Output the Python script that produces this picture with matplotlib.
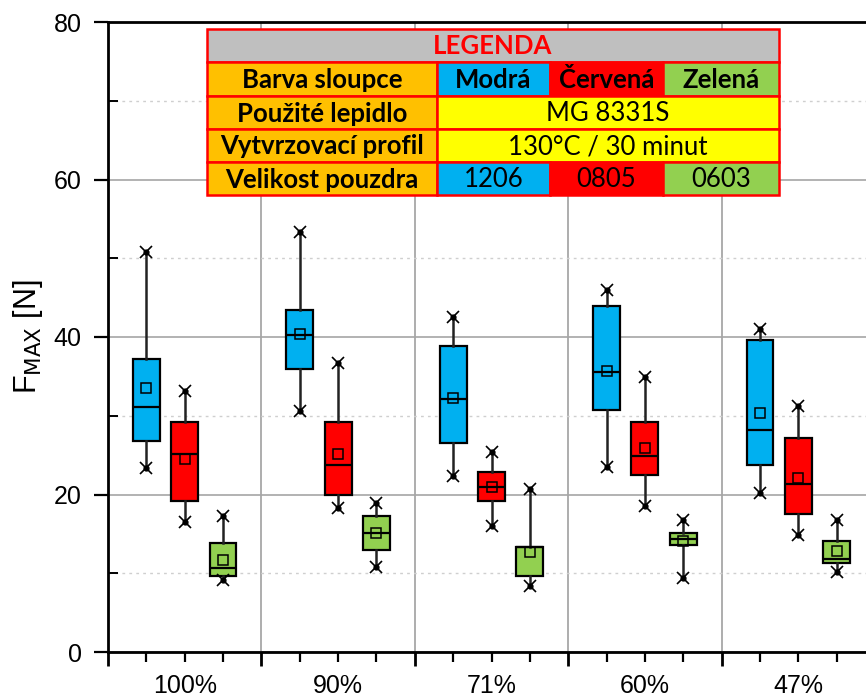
import matplotlib
matplotlib.use("Agg")
import matplotlib.pyplot as plt
from matplotlib.patches import Rectangle
from matplotlib.ticker import FixedLocator, NullFormatter, FixedFormatter

# ---- data -------------------------------------------------------------
groups = ["100%", "90%", "71%", "60%", "47%"]

blue_min = [23.4, 30.65, 22.3, 23.5, 20.2]
blue_q1 = [26.75, 36.0, 26.6, 30.7, 23.8]
blue_med = [31.15, 40.3, 32.1, 35.5, 28.2]
blue_q3 = [37.25, 43.4, 38.8, 43.94, 39.6]
blue_max = [50.75, 53.3, 42.5, 45.97, 41.0]
blue_mean = [33.5, 40.4, 32.3, 35.7, 30.3]

red_min = [16.55, 18.3, 16.05, 18.6, 14.8]
red_q1 = [19.2, 19.9, 19.2, 22.5, 17.5]
red_med = [25.2, 23.75, 21.0, 24.9, 21.3]
red_q3 = [29.2, 29.2, 22.9, 29.2, 27.2]
red_max = [33.2, 36.7, 25.35, 34.9, 31.3]
red_mean = [24.55, 25.1, 21.0, 25.95, 22.15]

green_min = [9.15, 10.8, 8.35, 9.35, 10.1]
green_q1 = [9.6, 13.0, 9.6, 13.55, 11.35]
green_med = [10.7, 15.1, 13.3, 14.3, 11.8]
green_q3 = [13.8, 17.3, 13.3, 15.1, 14.1]
green_max = [17.3, 18.9, 20.7, 16.7, 16.7]
green_mean = [11.7, 15.1, 12.75, 14.15, 12.8]

# legend table texts
legend_title = "LEGENDA"
row_labels = ["Barva sloupce", "Použité lepidlo", "Vytvrzovací profil", "Velikost pouzdra"]
color_names = ["Modrá", "Červená", "Zelená"]
adhesive = "MG 8331S"
cure_profile = "130°C / 30 minut"
package_sizes = ["1206", "0805", "0603"]

# ---- styling ------------------------------------------------------------
C_BLUE = "#00B0F0"
C_RED = "#FF0000"
C_GREEN = "#92D050"
C_ORANGE = "#FFC000"
C_YELLOW = "#FFFF00"
C_GRAY = "#BFBFBF"

plt.rcParams["font.family"] = ["Liberation Sans", "DejaVu Sans"]

W, H = 866, 697
fig = plt.figure(figsize=(W / 100, H / 100), dpi=100)
ax = fig.add_axes([108 / W, 45 / H, 767 / W, 630 / H])

series = [
    (blue_min, blue_q1, blue_med, blue_q3, blue_max, blue_mean, C_BLUE, 0.25),
    (red_min, red_q1, red_med, red_q3, red_max, red_mean, C_RED, 0.50),
    (green_min, green_q1, green_med, green_q3, green_max, green_mean, C_GREEN, 0.75),
]
box_w = 0.175

for mins, q1s, meds, q3s, maxs, means, col, off in series:
    stats = []
    for i in range(len(groups)):
        stats.append(dict(whislo=mins[i], q1=q1s[i], med=meds[i], q3=q3s[i],
                          whishi=maxs[i], mean=means[i], fliers=[]))
    pos = [i + off for i in range(len(groups))]
    ax.bxp(stats, positions=pos, widths=box_w, patch_artist=True,
           showcaps=False, showfliers=False, showmeans=False,
           boxprops=dict(facecolor=col, edgecolor="black", linewidth=1.6),
           medianprops=dict(color="black", linewidth=1.6),
           whiskerprops=dict(color="#222222", linewidth=1.8),
           zorder=3)
    for ends in (mins, maxs):
        ax.plot(pos, ends, ls="none", marker="x", ms=8, mew=1.2, color="black", zorder=4)
        ax.plot(pos, ends, ls="none", marker="o", ms=3.5, color="black", zorder=4)
    ax.plot(pos, means, ls="none", marker="s", ms=7, mew=1.1, mfc="none",
            mec="black", zorder=5)

ax.set_xlim(0, len(groups))
ax.set_ylim(0, 80)

# x axis: group boundaries as major ticks, box positions as minor ticks
ax.xaxis.set_major_locator(FixedLocator(list(range(len(groups) + 1))))
ax.xaxis.set_major_formatter(NullFormatter())
minor_pos, minor_lab = [], []
for i, g in enumerate(groups):
    for off in (0.25, 0.5, 0.75):
        minor_pos.append(i + off)
        minor_lab.append(g if off == 0.5 else "")
ax.xaxis.set_minor_locator(FixedLocator(minor_pos))
ax.xaxis.set_minor_formatter(FixedFormatter(minor_lab))
ax.tick_params(axis="x", which="major", direction="out", length=10, width=2)
ax.tick_params(axis="x", which="minor", direction="out", length=7, width=1.6,
               labelsize=18, pad=9)

ax.yaxis.set_major_locator(FixedLocator([0, 20, 40, 60, 80]))
ax.yaxis.set_minor_locator(FixedLocator([10, 30, 50, 70]))
ax.tick_params(axis="y", which="major", direction="out", length=10, width=1.6,
               labelsize=18, pad=9)
ax.tick_params(axis="y", which="minor", direction="in", length=7, width=1.4)

ax.grid(True, axis="y", which="major", color="#A6A6A6", linewidth=1.2, zorder=0)
ax.grid(True, axis="y", which="minor", color="#CFCFCF", linewidth=1.0,
        linestyle=(0, (2, 3)), zorder=0)
ax.grid(True, axis="x", which="major", color="#A0A0A0", linewidth=1.2, zorder=0)
ax.set_axisbelow(True)

for s in ("left", "bottom", "top"):
    ax.spines[s].set_linewidth(2)
ax.spines["right"].set_visible(False)

ax.set_ylabel(r"F$_{\mathrm{MAX}}$ [N]", fontsize=22)
ax.yaxis.set_label_coords(-0.082, 0.5)

# ---- legend table (pixel coordinates) ----------------------------------
lax = fig.add_axes([0, 0, 1, 1], zorder=10)
lax.set_xlim(0, W)
lax.set_ylim(H, 0)
lax.axis("off")

x0, x1, x2, x3, x4 = 207, 437, 550, 663, 779
rows_y = [29, 62, 96, 129, 162, 195]
border = dict(edgecolor=C_RED, linewidth=1.8)
tfont = dict(family=["Lato", "DejaVu Sans"], fontsize=18.5, ha="center", va="center")


def cell(xa, xb, ya, yb, fc):
    lax.add_patch(Rectangle((xa, ya), xb - xa, yb - ya, facecolor=fc, **border))


def ctext(xa, xb, ya, yb, s, **kw):
    lax.text((xa + xb) / 2, (ya + yb) / 2 + 1, s, **{**tfont, **kw})


# title row
cell(x0, x4, rows_y[0], rows_y[1], C_GRAY)
ctext(x0, x4, rows_y[0], rows_y[1], legend_title, color=C_RED, fontweight="bold")

# row label column
for r, lab in enumerate(row_labels):
    ya, yb = rows_y[r + 1], rows_y[r + 2]
    cell(x0, x1, ya, yb, C_ORANGE)
    ctext(x0, x1, ya, yb, lab, fontweight="bold")

cols = [(x1, x2, C_BLUE), (x2, x3, C_RED), (x3, x4, C_GREEN)]
# colour names
for (xa, xb, fc), name in zip(cols, color_names):
    cell(xa, xb, rows_y[1], rows_y[2], fc)
    ctext(xa, xb, rows_y[1], rows_y[2], name, fontweight="bold")
# adhesive and cure profile
cell(x1, x4, rows_y[2], rows_y[3], C_YELLOW)
ctext(x1, x4, rows_y[2], rows_y[3], adhesive)
cell(x1, x4, rows_y[3], rows_y[4], C_YELLOW)
ctext(x1, x4, rows_y[3], rows_y[4], cure_profile)
# package sizes
for (xa, xb, fc), size in zip(cols, package_sizes):
    cell(xa, xb, rows_y[4], rows_y[5], fc)
    ctext(xa, xb, rows_y[4], rows_y[5], size)

fig.savefig("out.png", dpi=100)
